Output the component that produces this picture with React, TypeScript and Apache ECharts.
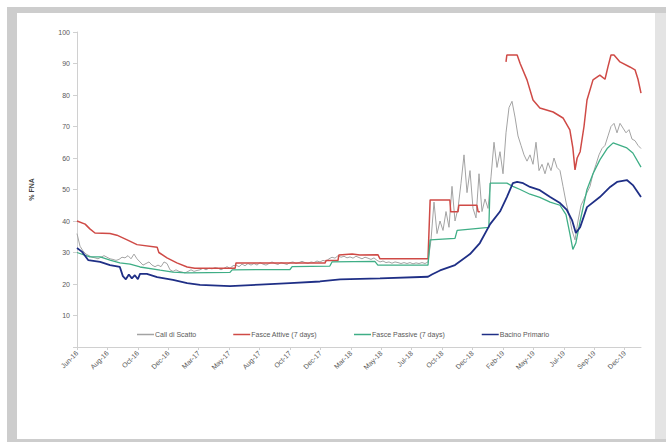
import React, { useEffect, useRef } from "react";
import * as echarts from "echarts";

// Date axis: day 0 is 1 June 2016, one labelled tick every 71 days
const tickLabels = [
  "Jun-16", "Aug-16", "Oct-16", "Dec-16", "Mar-17", "May-17", "Aug-17", "Oct-17",
  "Dec-17", "Mar-18", "May-18", "Jul-18", "Oct-18", "Dec-18", "Feb-19", "May-19",
  "Jul-19", "Sep-19", "Dec-19",
];
const TICK_DAYS = 71;
const LAST_DAY = 1316;

const seriesNames = [
  "Call di Scatto",
  "Fasce Attive (7 days)",
  "Fasce Passive (7 days)",
  "Bacino Primario",
];

// Weekly observations (one value every 7 days from day 0)
const callScatto = [
  36, 32, 30.5, 29.5, 29, 28.5, 28.3, 28, 28.5, 29, 28.5, 28, 27.8, 27.5, 27.8, 28.5,
  28.3, 29, 28, 29.5, 28, 27, 26, 26.5, 27, 26, 25.5, 26, 25.5, 27, 26.5, 24.5,
  24, 24.5, 24, 23.8, 23.5, 24, 24.5, 24, 24.3, 24.5, 25, 24.5, 25, 24.8, 25.2, 25,
  24.5, 25, 25.5, 25, 25.8, 26, 25.5, 26.3, 25.8, 26.5, 26, 26.5, 26, 26.8, 26.3, 26,
  26.5, 27, 26.5, 26.2, 26.8, 26.5, 26.2, 26.8, 27, 26.5, 26.8, 27.2, 26.8, 26.5, 27, 26.8,
  27.3, 27, 27.5, 27.2, 28, 28.5, 28.2, 29, 28.5, 28.8, 28.3, 28.6, 28.2, 28.8, 28.4, 28,
  28.5, 28.2, 27.8, 28.3, 27.5, 27, 27.3, 26.8, 27, 26.6, 27, 26.8, 26.5, 26.8, 26.5, 26.8,
  26.4, 26.7, 26.5, 26.8, 26.5, 27, 34, 46, 36, 40, 37, 43, 38, 51, 40, 44,
  52, 61, 49, 56, 44, 41, 55, 43, 47, 44, 54, 65, 57, 62, 55, 68, 76, 78,
  73, 67, 64, 61, 59, 61, 58, 65, 56, 58, 55, 58.5, 56, 60, 57, 56, 51, 46,
  42, 37, 34, 40, 45, 47, 49, 51, 55, 58, 61, 63, 64, 67, 70, 71, 68, 71,
  69.5, 68, 69, 66, 65.5, 64, 63,
];

// [day, value] pairs; null marks a break in the line
const fasceAttive: ([number, number] | null)[] = [
  [0, 40], [19, 39], [30, 37.5], [42, 36.2], [77, 36], [93, 35.5], [117, 34], [140, 32.5],
  [187, 31.7], [191, 30], [210, 28.3], [233, 26.7], [257, 25.4], [275, 25], [369, 25],
  [371, 26.7], [579, 26.7], [581, 27.5], [609, 27.5], [611, 29.2], [642, 29.5], [660, 29.2],
  [702, 29.3], [707, 28], [819, 28], [824, 46.7], [870, 46.7], [872, 42.9], [889, 42.9],
  [891, 45], [933, 45], [936, 42.9], [940, 42.9], null,
  [1001, 90.5], [1003, 92.7], [1027, 92.7], [1034, 90], [1050, 84.8], [1064, 78.4],
  [1080, 75.9], [1111, 74.6], [1134, 72.7], [1150, 68.9], [1157, 63.2], [1162, 56.2],
  [1167, 60], [1174, 62], [1183, 70], [1190, 78.4], [1204, 84.8], [1220, 86.3], [1232, 85],
  [1239, 89], [1246, 92.7], [1253, 92.7], [1267, 90.5], [1290, 88.9], [1302, 88],
  [1309, 85], [1316, 80.6],
];

const fassePassive: [number, number][] = [
  [0, 30], [30, 28.6], [54, 28.6], [77, 27.6], [100, 26.7], [124, 26.3], [147, 25.4],
  [194, 24.4], [224, 23.8], [257, 23.5], [357, 23.7], [362, 24.5], [497, 24.6], [502, 25.5],
  [590, 25.7], [595, 27], [695, 27.2], [702, 26], [819, 26], [824, 34], [882, 34.5],
  [887, 37], [961, 38], [964, 52], [1003, 52], [1017, 51], [1034, 50], [1057, 48.5],
  [1080, 47.5], [1104, 46], [1127, 45], [1141, 42], [1150, 36], [1157, 31], [1164, 33],
  [1174, 40], [1190, 50], [1204, 55], [1220, 59.4], [1237, 63], [1251, 64.8], [1267, 64],
  [1283, 63.2], [1297, 61.6], [1316, 57.1],
];

const bacinoPrimario: [number, number][] = [
  [0, 31.4], [12, 30.2], [26, 27.6], [54, 27], [77, 26], [100, 25.4], [107, 22.5],
  [114, 21.5], [121, 23], [128, 21.8], [135, 22.8], [142, 21.5], [147, 23.2], [163, 23.2],
  [187, 22.2], [224, 21.3], [257, 20.3], [287, 19.7], [357, 19.3], [427, 19.8],
  [497, 20.3], [567, 20.8], [614, 21.5], [707, 21.8], [819, 22.3], [828, 23], [847, 24.3],
  [882, 26], [917, 29.5], [940, 33], [964, 39], [987, 43], [1003, 47.6], [1017, 52],
  [1027, 52.4], [1041, 52], [1057, 50.8], [1080, 49.8], [1104, 47.6], [1127, 45.7],
  [1143, 43.5], [1155, 40.3], [1164, 36.2], [1174, 38], [1190, 44.4], [1220, 47.6],
  [1244, 50.8], [1260, 52.4], [1283, 53], [1297, 51.4], [1316, 47.6],
];

const FONT = "'Liberation Sans', Arial, sans-serif";
const TEXT = "#595959";

export default function App() {
  const ref = useRef<HTMLDivElement>(null);

  useEffect(() => {
    if (!ref.current) return;
    const chart = echarts.init(ref.current, undefined, { renderer: "svg" });
    const lineSeries = (name: string, data: any[], color: string, width: number) => ({
      name,
      type: "line",
      data,
      symbol: "none",
      showSymbol: false,
      connectNulls: false,
      lineStyle: { color, width },
      itemStyle: { color },
    });
    chart.setOption({
      animation: false,
      textStyle: { fontFamily: FONT },
      grid: { left: 77, right: 25, top: 32, bottom: 95, containLabel: false },
      legend: {
        left: 132,
        top: 326,
        icon: "rect",
        itemGap: 37,
        itemWidth: 17,
        itemHeight: 1.5,
        data: seriesNames,
        textStyle: { fontSize: 7, color: TEXT, fontFamily: FONT, padding: [0, 0, 0, -4] },
      },
      xAxis: {
        type: "value",
        min: 0,
        max: LAST_DAY,
        interval: TICK_DAYS,
        axisLine: { show: true, lineStyle: { color: "#d0d0d0", width: 1 } },
        axisTick: { show: true, length: 3, lineStyle: { color: "#d0d0d0" } },
        splitLine: { show: false },
        axisLabel: {
          rotate: 45,
          fontSize: 7,
          color: TEXT,
          margin: 5,
          showMaxLabel: false,
          formatter: (v: number) => tickLabels[Math.round(v / TICK_DAYS)] ?? "",
        },
      },
      yAxis: {
        type: "value",
        min: 0,
        max: 100,
        interval: 10,
        name: "% FNA",
        nameLocation: "middle",
        nameGap: 42,
        nameRotate: 90,
        nameTextStyle: { fontSize: 7, fontWeight: "bold", color: "#404040" },
        axisLine: { show: true, lineStyle: { color: "#d0d0d0", width: 1 } },
        axisTick: { show: true, length: 4, lineStyle: { color: "#d0d0d0" } },
        splitLine: { show: false },
        axisLabel: {
          fontSize: 7,
          color: TEXT,
          margin: 7,
          formatter: (v: number) => (v === 0 ? "" : String(v)),
        },
      },
      series: [
        lineSeries(seriesNames[0], callScatto.map((v, i) => [i * 7, v]), "#a3a3a3", 1),
        lineSeries(seriesNames[1], fasceAttive.map((p) => p ?? [970, null]), "#cf4a46", 1.5),
        lineSeries(seriesNames[2], fassePassive, "#3fae86", 1.3),
        lineSeries(seriesNames[3], bacinoPrimario, "#1f2f86", 1.8),
      ],
    });
    return () => chart.dispose();
  }, []);

  return (
    <div style={{ position: "fixed", left: 0, top: 0, width: 666, height: 442, background: "#ffffff" }}>
      <div style={{ position: "absolute", left: 7, top: 7, width: 659, height: 435, background: "#cdcdcd" }} />
      <div style={{ position: "absolute", left: 655, top: 13, width: 11, height: 426, background: "#e4e4e4" }} />
      <div style={{ position: "absolute", left: 17, top: 13, width: 638, height: 426, background: "#ffffff" }} />
      <div ref={ref} style={{ position: "absolute", left: 0, top: 0, width: 666, height: 442 }} />
    </div>
  );
}
